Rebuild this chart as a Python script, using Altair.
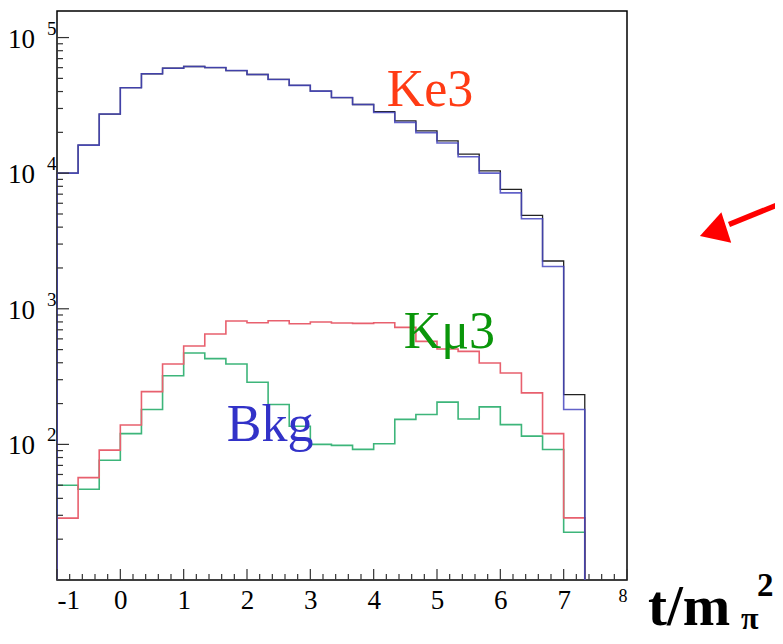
import altair as alt
import pandas as pd

# ---------------- data ----------------
bin_start = -1.0
bin_width = 1.0 / 3.0
n_bins = 25
bin_edges = [bin_start + k * bin_width for k in range(n_bins)]
x_end = bin_start + n_bins * bin_width

data_counts = [10000, 16100, 27300, 42700, 54100, 59400, 61200, 60100, 57100, 53400,
               49100, 44400, 40300, 36100, 32100, 28400, 24300, 20500, 17300, 13800,
               10400, 7590, 4890, 2250, 233]
mc_counts = [10000, 16100, 27300, 42700, 54100, 59400, 61200, 60100, 57100, 53400,
             49100, 44400, 40300, 36100, 32100, 28000, 23700, 19900, 16700, 13200,
             10000, 7160, 4610, 2050, 181]
red_counts = [28.6, 56.9, 90.8, 139, 245, 392, 532, 652, 812, 789,
              817, 775, 798, 785, 780, 789, 729, 575, 505, 485,
              398, 336, 240, 120, 28.7]
green_counts = [50, 46.7, 76.3, 120, 181, 321, 472, 429, 392, 287,
                197, 136, 100, 98.3, 91.9, 101, 153, 166, 205, 154,
                189, 140, 115, 91.8, 22.5]

y_major = [100, 1000, 10000, 100000]
y_exponents = ["2", "3", "4", "5"]
y_minor = [m * 10 ** d for d in range(1, 5) for m in range(2, 10)]
x_major = [-1, 0, 1, 2, 3, 4, 5, 6, 7, 8]
x_minor = [round(-1 + 0.2 * i, 1) for i in range(46) if i % 5]

labels = ["Ke3", "Kμ3", "Bkg"]
label_x = [4.206, 4.474, 1.68]
label_y = [31100, 516, 106]
label_colors = ["#ff3b14", "#0a960a", "#3232c8"]

FLOOR = 1.0  # below the axis floor, clipped away

X_SCALE = alt.Scale(domain=[-1, 8], nice=False, zero=False)
Y_SCALE = alt.Scale(type="log", domain=[10, 157000], nice=False)
SERIF = "Liberation Serif"

x_axis = alt.Axis(
    values=x_major, ticks=False, tickSize=0, domain=False, grid=False, title=None,
    labelFont=SERIF, labelColor="black", labelPadding=7,
    labelFontSize={"condition": {"test": "datum.value == 8", "value": 18}, "value": 27},
    labelExpr="datum.value < 0 ? '-' + abs(datum.value) : '' + datum.value",
)


def step_frame(counts):
    rows = [{"t": bin_start, "n": FLOOR}]
    rows += [{"t": e, "n": c} for e, c in zip(bin_edges, counts)]
    rows += [{"t": x_end, "n": counts[-1]}, {"t": x_end, "n": FLOOR}]
    df = pd.DataFrame(rows)
    df["i"] = range(len(df))
    return df


def hist_layer(counts, color, width, opacity=1.0):
    return alt.Chart(step_frame(counts)).mark_line(
        interpolate="step-after", clip=True, color=color, strokeWidth=width, opacity=opacity
    ).encode(
        x=alt.X("t:Q", scale=X_SCALE, axis=x_axis),
        y=alt.Y("n:Q", scale=Y_SCALE, axis=None),
        order="i:Q",
    )


green = hist_layer(green_counts, "#3db57a", 1.6)
red = hist_layer(red_counts, "#e8606e", 1.6)
black = hist_layer(data_counts, "#222222", 1.3)
blue = hist_layer(mc_counts, "#4646c0", 1.6, 0.85)

# y ticks (inside)
ymaj_df = pd.DataFrame({"v": y_major, "e": y_exponents})
ymin_df = pd.DataFrame({"v": y_minor})
ytick_major = alt.Chart(ymaj_df).mark_rule(color="#333", strokeWidth=1.2).encode(
    y=alt.Y("v:Q", scale=Y_SCALE, axis=None), x=alt.value(0), x2=alt.value(12))
ytick_minor = alt.Chart(ymin_df).mark_rule(color="#333", strokeWidth=1.2).encode(
    y=alt.Y("v:Q", scale=Y_SCALE, axis=None), x=alt.value(0), x2=alt.value(6))

# x ticks (inside)
xmaj_df = pd.DataFrame({"v": x_major})
xmin_df = pd.DataFrame({"v": x_minor})
xtick_major = alt.Chart(xmaj_df).mark_rule(color="#333", strokeWidth=1.2).encode(
    x=alt.X("v:Q", scale=X_SCALE, axis=x_axis), y=alt.value(569), y2=alt.value(558))
xtick_minor = alt.Chart(xmin_df).mark_rule(color="#333", strokeWidth=1.2).encode(
    x=alt.X("v:Q", scale=X_SCALE, axis=x_axis), y=alt.value(569), y2=alt.value(563))

# y labels "10" with exponent
ylab_base = alt.Chart(ymaj_df).mark_text(
    align="right", baseline="alphabetic", dy=10, font=SERIF, fontSize=27, color="black", text="10"
).encode(y=alt.Y("v:Q", scale=Y_SCALE, axis=None), x=alt.value(-22))
ylab_exp = alt.Chart(ymaj_df).mark_text(
    align="left", baseline="alphabetic", dy=-3, font=SERIF, fontSize=19, color="black"
).encode(y=alt.Y("v:Q", scale=Y_SCALE, axis=None), x=alt.value(-10), text="e:N")

# in-plot labels
lab_df = pd.DataFrame({"t": label_x, "n": label_y, "s": labels, "c": label_colors})
lab = alt.Chart(lab_df).mark_text(
    align="left", baseline="alphabetic", font=SERIF, fontSize=52
).encode(
    x=alt.X("t:Q", scale=X_SCALE, axis=x_axis),
    y=alt.Y("n:Q", scale=Y_SCALE, axis=None),
    text="s:N",
    color=alt.Color("c:N", scale=None),
)

# axis title t/m_pi^2
one = pd.DataFrame({"a": [0]})
title_main = alt.Chart(one).mark_text(
    align="left", baseline="alphabetic", font=SERIF, fontSize=57, fontWeight="bold", color="black", text="t/m"
).encode(x=alt.value(591), y=alt.value(614))
title_sub = alt.Chart(one).mark_text(
    align="left", baseline="alphabetic", font=SERIF, fontSize=32, fontWeight="bold", color="black", text="π"
).encode(x=alt.value(684), y=alt.value(618))
title_sup = alt.Chart(one).mark_text(
    align="left", baseline="alphabetic", font=SERIF, fontSize=33, fontWeight="bold", color="black", text="2"
).encode(x=alt.value(700), y=alt.value(585))

# red arrow
arrow_shaft = alt.Chart(one).mark_rule(color="#ff0000", strokeWidth=5.5).encode(
    x=alt.value(730), y=alt.value(190), x2=alt.value(672), y2=alt.value(213.5))
arrow_head = alt.Chart(one).mark_point(
    shape="triangle", filled=True, color="#ff0000", opacity=1, size=1024, angle=252, strokeWidth=0
).encode(x=alt.value(660.5), y=alt.value(219.3))

chart = alt.layer(
    green, red, black, blue,
    ytick_major, ytick_minor, xtick_major, xtick_minor,
    ylab_base, ylab_exp, lab,
    title_main, title_sub, title_sup,
    arrow_shaft, arrow_head,
).properties(
    width=570, height=569,
    padding={"left": 49, "top": 3, "right": 148, "bottom": 56},
    autosize=alt.AutoSizeParams(type="none"),
    background="white",
).configure_view(stroke="black", strokeWidth=1.5)

chart.save("out.html", embed_options={"renderer": "svg", "actions": False})
